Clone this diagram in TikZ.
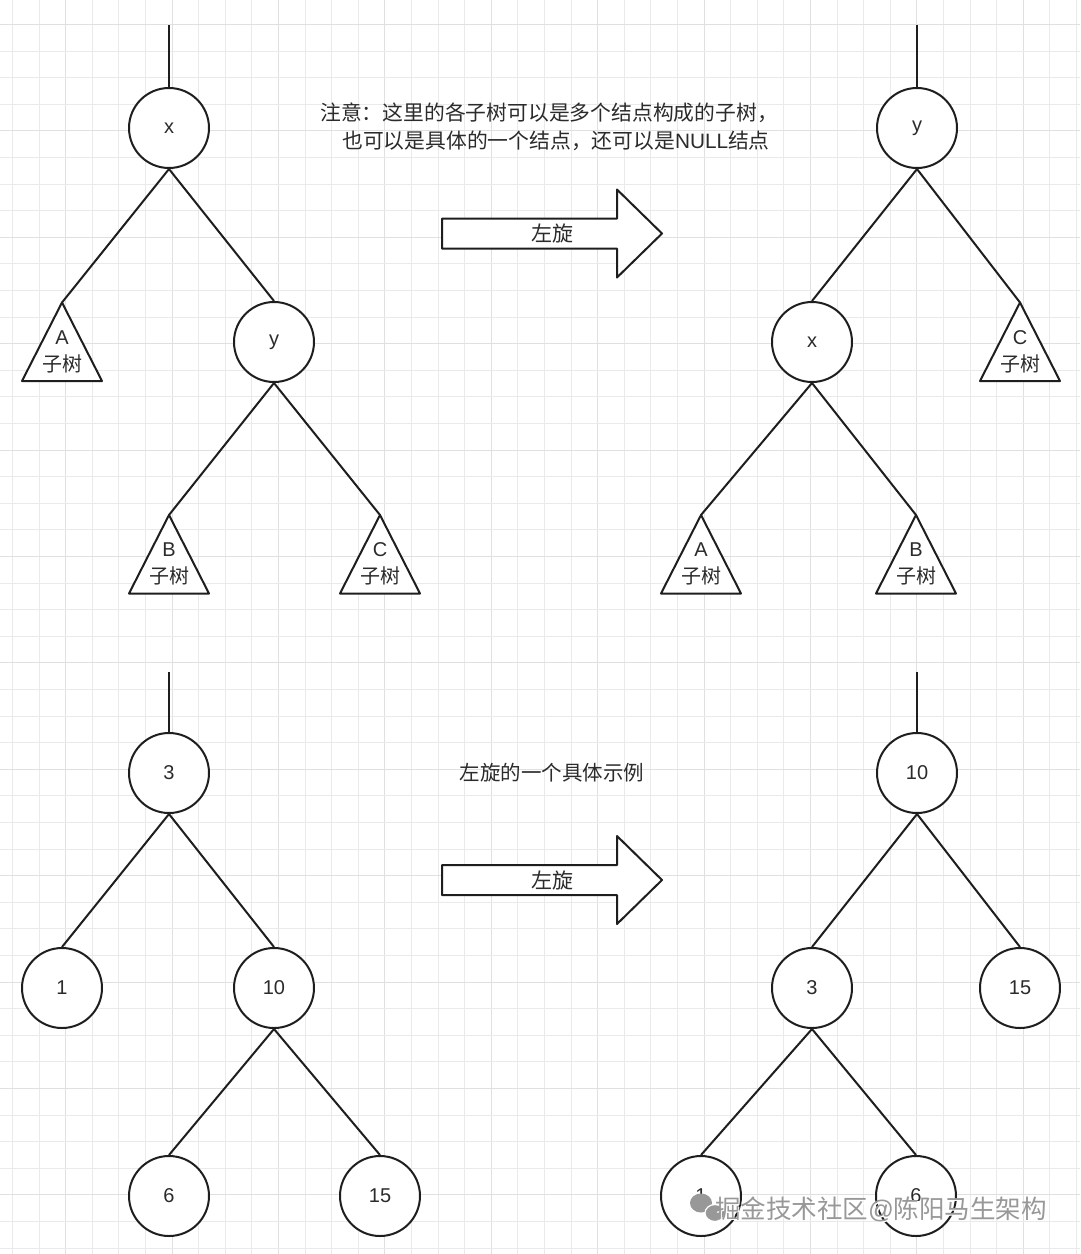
\documentclass[tikz,border=0pt]{standalone}
\usepackage{fontspec}
\setmainfont{Liberation Sans}
\newfontfamily\cjk{Noto Sans CJK SC}
\usetikzlibrary{calc}
\definecolor{gridminor}{HTML}{EAEAEA}
\definecolor{gridmajor}{HTML}{E0E0E0}
\definecolor{ink}{HTML}{1E1E1E}
\definecolor{txt}{HTML}{2B2B2B}
\definecolor{wm}{HTML}{989898}
\tikzset{
  edge/.style={line width=2pt, draw=ink, line join=round},
  tnode/.style={circle, draw=ink, line width=2pt, fill=white, minimum size=80pt, inner sep=0pt, text=txt, font=\fontsize{20}{24}\selectfont},
  lbl/.style={text=txt, inner sep=0pt, font=\fontsize{20}{24}\selectfont},
  arrowlbl/.style={text=txt, inner sep=0pt, font=\fontsize{21}{25}\selectfont\cjk},
}
\newcommand\mysubtree[3]{%
  \coordinate (#1) at (#2,#3);
  \draw[edge, fill=white] (#1) -- ++(-40,78.5) -- ++(80,0) -- cycle;
}
\newcommand\myrotarrow[2]{%
  \draw[edge, fill=white] (442,#2-15) -- (617,#2-15) -- (617,#2-44) -- (662,#2) -- (617,#2+44) -- (617,#2+15) -- (442,#2+15) -- cycle;
  \node[arrowlbl] (#1) at (552,#2) {左旋};
}
\begin{document}
\begin{tikzpicture}[x=1pt,y=-1pt]
\useasboundingbox (0,0) rectangle (1080,1254);
\fill[white] (0,0) rectangle (1080,1254);
% grid
\foreach \k in {0,...,40}{
  \pgfmathsetmacro\gx{round(12+26.6*\k)+0.5}
  \pgfmathtruncatemacro\m{mod(\k,4)}
  \ifnum\m=2 \draw[gridmajor, line width=1.5pt] (\gx,0) -- (\gx,1254);
  \else \draw[gridminor, line width=1.2pt] (\gx,0) -- (\gx,1254); \fi
}
\foreach \k in {0,...,46}{
  \pgfmathsetmacro\gy{round(24+26.6*\k)+0.5}
  \pgfmathtruncatemacro\m{mod(\k,4)}
  \ifnum\m=0 \draw[gridmajor, line width=1.5pt] (0,\gy) -- (1080,\gy);
  \else \draw[gridminor, line width=1.2pt] (0,\gy) -- (1080,\gy); \fi
}

% ===== top-left tree =====
\coordinate (tlTop) at (169,25);
\node[tnode] (tlx) at (169,128) {x};
\node[tnode] (tly) at (274,342) {y};
\mysubtree{tlA}{62}{302.5}
\mysubtree{tlB}{169}{515}
\mysubtree{tlC}{380}{515}
\node[lbl] (tlAl) at (62,338) {A};
\node[lbl] (tlAs) at (62,364) {\cjk 子树};
\node[lbl] (tlBl) at (169,550) {B};
\node[lbl] (tlBs) at (169,576) {\cjk 子树};
\node[lbl] (tlCl) at (380,550) {C};
\node[lbl] (tlCs) at (380,576) {\cjk 子树};
\draw[edge] (tlTop) -- (tlx.north);
\draw[edge] (tlx.south) -- (tlA);
\draw[edge] (tlx.south) -- (tly.north);
\draw[edge] (tly.south) -- (tlB);
\draw[edge] (tly.south) -- (tlC);

% ===== top-right tree =====
\coordinate (trTop) at (917,25);
\node[tnode] (try) at (917,128) {y};
\node[tnode] (trx) at (812,342) {x};
\mysubtree{trC}{1020}{302.5}
\mysubtree{trA}{701}{515}
\mysubtree{trB}{916}{515}
\node[lbl] (trCl) at (1020,338) {C};
\node[lbl] (trCs) at (1020,364) {\cjk 子树};
\node[lbl] (trAl) at (701,550) {A};
\node[lbl] (trAs) at (701,576) {\cjk 子树};
\node[lbl] (trBl) at (916,550) {B};
\node[lbl] (trBs) at (916,576) {\cjk 子树};
\draw[edge] (trTop) -- (try.north);
\draw[edge] (try.south) -- (trx.north);
\draw[edge] (try.south) -- (trC);
\draw[edge] (trx.south) -- (trA);
\draw[edge] (trx.south) -- (trB);

% note + arrow 1
\node[lbl, align=center, font=\fontsize{20.8}{28}\selectfont\cjk] (note) at (549,127)
  {注意：这里的各子树可以是多个结点构成的子树，\\ \hspace*{14pt}也可以是具体的一个结点，还可以是{\rmfamily NULL}结点};
\myrotarrow{arr1}{233.5}

% ===== bottom-left tree =====
\coordinate (blTop) at (169,672);
\node[tnode] (bl3) at (169,773) {3};
\node[tnode] (bl1) at (62,988) {1};
\node[tnode] (bl10) at (274,988) {10};
\node[tnode] (bl6) at (169,1196) {6};
\node[tnode] (bl15) at (380,1196) {15};
\draw[edge] (blTop) -- (bl3.north);
\draw[edge] (bl3.south) -- (bl1.north);
\draw[edge] (bl3.south) -- (bl10.north);
\draw[edge] (bl10.south) -- (bl6.north);
\draw[edge] (bl10.south) -- (bl15.north);

% ===== bottom-right tree =====
\coordinate (brTop) at (917,672);
\node[tnode] (br10) at (917,773) {10};
\node[tnode] (br3) at (812,988) {3};
\node[tnode] (br15) at (1020,988) {15};
\node[tnode] (br1) at (701,1196) {1};
\node[tnode] (br6) at (916,1196) {6};
\draw[edge] (brTop) -- (br10.north);
\draw[edge] (br10.south) -- (br3.north);
\draw[edge] (br10.south) -- (br15.north);
\draw[edge] (br3.south) -- (br1.north);
\draw[edge] (br3.south) -- (br6.north);

% example caption + arrow 2
\node[lbl, font=\fontsize{20.5}{24}\selectfont\cjk] (example) at (552,773) {左旋的一个具体示例};
\myrotarrow{arr2}{880}

% watermark
\fill[wm] (701,1203) ellipse [x radius=11, y radius=9.5];
\fill[wm, draw=white, line width=1.2pt] (715,1213) ellipse [x radius=10, y radius=8.5];
\node[text=white, inner sep=0pt, font=\fontsize{25.5}{28}\selectfont\cjk] (wmshadow) at (882.5,1210.5) {掘金技术社区{\rmfamily @}陈阳马生架构};
\node[text=wm, inner sep=0pt, font=\fontsize{25.5}{28}\selectfont\cjk] (wmtext) at (881,1209) {掘金技术社区{\rmfamily @}陈阳马生架构};
\end{tikzpicture}
\end{document}
